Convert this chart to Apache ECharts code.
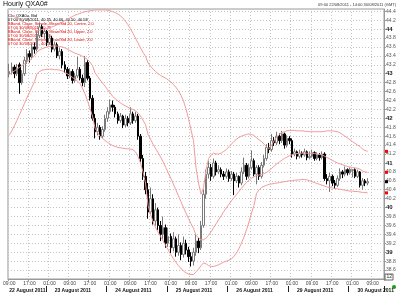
<!DOCTYPE html>
<html><head><meta charset="utf-8">
<script src="https://cdn.jsdelivr.net/npm/echarts@6/dist/echarts.min.js"></script>
<style>html,body{margin:0;padding:0;background:#fff}#c{width:400px;height:293px}</style>
</head><body><div id="c"></div>
<script>
// ---------- data ----------
const dayNames = ['22 August 2011','23 August 2011','24 August 2011','25 August 2011','26 August 2011','29 August 2011','30 August 2011'];
const dayDates = ['22/08/2011','23/08/2011','24/08/2011','25/08/2011','26/08/2011','29/08/2011','30/08/2011'];
const dayFirstHour = [9,0,0,0,0,0,0];
const dayLastHour  = [23,23,23,23,23,23,7];
const rangeEndHour = 13; // empty hourly slots after the last bar on 30/08

const opens = [
 43.00,43.05,43.15,43.00,43.20,42.80,43.00,43.30,43.45,43.38,43.60,43.55,43.85,44.05,43.90,
 43.95,43.70,43.80,43.55,43.65,43.40,43.50,43.20,43.10,42.95,43.05,42.85,42.95,43.10,42.90,42.80,43.25,42.90,42.45,42.00,41.70,41.80,41.60,41.75,
 42.00,42.15,42.30,42.25,42.10,41.95,42.05,41.85,42.00,41.90,42.10,41.95,42.05,41.60,41.10,40.70,40.40,39.90,40.20,39.70,39.95,39.60,39.40,39.55,
 39.20,39.35,39.10,39.30,39.00,39.15,38.95,39.20,39.05,38.90,38.80,39.00,39.25,39.10,39.60,40.30,40.75,40.90,40.70,41.00,40.80,40.85,40.75,40.70,
 40.80,40.65,40.75,40.60,40.70,40.55,40.80,40.95,40.70,40.90,41.05,40.75,40.90,40.70,40.95,41.10,41.35,41.30,41.50,41.45,41.60,41.50,41.65,41.40,
 41.55,41.50,41.20,41.25,41.15,41.22,41.18,41.25,41.12,41.15,41.23,41.10,41.18,41.12,41.20,40.65,40.60,40.70,40.55,40.50,40.65,40.80,40.75,40.85,
 40.78,40.83,40.85,40.70,40.80,40.50,40.60,40.55
];
const closes = [
 43.05,43.15,43.00,43.12,42.80,43.00,43.30,43.45,43.38,43.60,43.55,43.85,44.05,43.90,43.95,
 43.70,43.80,43.55,43.65,43.40,43.50,43.20,43.10,42.95,43.05,42.85,42.95,43.10,42.90,42.80,43.25,42.90,42.45,42.00,41.70,41.80,41.60,41.75,42.00,
 42.15,42.30,42.25,42.10,41.95,42.05,41.85,42.00,41.90,42.10,41.95,42.05,41.60,41.10,40.70,40.40,39.90,40.20,39.70,39.95,39.60,39.40,39.55,39.20,
 39.35,39.10,39.30,39.00,39.15,38.95,39.20,39.05,38.90,38.80,39.00,39.25,39.10,39.60,40.30,40.75,40.90,40.70,41.00,40.80,40.85,40.75,40.70,40.80,
 40.65,40.75,40.60,40.70,40.55,40.80,40.95,40.70,40.90,41.05,40.75,40.90,40.70,40.95,41.10,41.35,41.30,41.50,41.45,41.60,41.50,41.65,41.40,41.55,
 41.50,41.20,41.25,41.15,41.22,41.18,41.25,41.12,41.15,41.23,41.10,41.18,41.12,41.20,40.65,40.60,40.70,40.55,40.50,40.65,40.80,40.75,40.85,40.78,
 40.86,40.85,40.70,40.80,40.50,40.60,40.55,40.58
];
const highs = [
 43.22,43.25,43.20,43.22,43.25,43.08,43.38,43.55,43.52,43.68,43.70,43.95,44.15,44.10,44.02,
 43.98,43.88,43.85,43.72,43.70,43.58,43.55,43.28,43.15,43.12,43.10,43.02,43.38,43.15,42.98,43.40,43.30,42.95,42.52,42.10,41.90,41.85,41.82,42.08,
 42.25,42.42,42.40,42.30,42.15,42.12,42.08,42.08,42.05,42.25,42.15,42.15,42.10,41.65,41.18,40.80,40.55,40.45,40.30,40.10,40.00,39.70,39.80,39.62,
 39.55,39.42,39.45,39.35,39.40,39.22,39.35,39.28,39.12,39.00,39.10,39.40,39.32,39.70,40.40,40.85,41.05,40.98,41.10,41.05,40.95,40.90,40.82,40.88,
 40.85,40.82,40.80,40.78,40.72,40.90,41.12,41.00,40.98,41.28,41.10,40.95,40.95,41.02,41.18,41.42,41.45,41.65,41.58,41.70,41.66,41.72,41.68,41.62,
 41.60,41.55,41.32,41.28,41.30,41.26,41.32,41.28,41.26,41.30,41.26,41.24,41.22,41.26,41.24,40.75,40.78,40.74,40.62,40.72,40.88,40.84,40.92,40.88,
 40.90,40.86,40.88,40.85,40.82,40.66,40.64,40.66
];
const lows = [
 42.92,42.98,42.90,42.95,42.55,42.75,42.95,43.22,43.25,43.32,43.45,43.50,43.80,43.82,43.78,
 43.62,43.65,43.48,43.50,43.35,43.32,43.12,43.02,42.88,42.90,42.78,42.80,42.90,42.85,42.72,42.70,42.85,42.40,41.95,41.55,41.62,41.52,41.55,41.70,
 41.92,42.10,42.15,42.02,41.88,41.90,41.78,41.80,41.82,41.85,41.88,41.90,41.52,41.02,40.62,40.30,39.75,39.85,39.62,39.60,39.50,39.25,39.30,39.10,
 39.12,38.98,39.02,38.90,38.92,38.82,38.88,38.95,38.78,38.68,38.70,38.92,38.98,39.05,39.55,40.20,40.65,40.60,40.65,40.72,40.75,40.68,40.62,40.65,
 40.58,40.60,40.28,40.55,40.45,40.50,40.75,40.62,40.65,40.85,40.70,40.52,40.62,40.65,40.90,41.05,41.22,41.25,41.38,41.40,41.42,41.45,41.32,41.35,
 41.42,41.12,41.15,41.08,41.10,41.12,41.14,41.06,41.08,41.12,41.05,41.06,41.05,41.08,40.60,40.52,40.35,40.48,40.42,40.46,40.60,40.66,40.70,40.72,
 40.74,40.68,40.66,40.66,40.45,40.40,40.48,40.50
];
const bbUpper = [
 44.33,44.31,44.28,44.25,44.22,44.18,44.15,44.10,44.06,44.02,43.99,43.96,43.97,43.99,44.00,
 44.01,44.03,44.05,44.07,44.10,44.13,44.16,44.19,44.22,44.25,44.28,44.31,44.33,44.35,44.37,44.39,44.40,44.41,44.42,44.43,44.43,44.43,44.43,44.43,
 44.42,44.41,44.39,44.37,44.34,44.30,44.25,44.18,44.10,44.01,43.91,43.80,43.69,43.58,43.48,43.39,43.24,43.17,43.10,43.05,43.00,42.96,42.93,42.90,
 42.86,42.82,42.76,42.70,42.62,42.52,42.40,42.22,42.00,41.75,41.50,40.90,40.55,40.30,40.45,40.85,41.10,41.18,41.22,41.20,41.20,41.22,41.26,41.30,
 41.36,41.42,41.48,41.53,41.57,41.60,41.62,41.64,41.65,41.64,41.62,41.56,41.52,41.48,41.42,41.36,41.32,41.40,41.50,41.58,41.64,41.68,41.70,41.72,
 41.73,41.73,41.73,41.72,41.72,41.72,41.71,41.71,41.70,41.70,41.70,41.70,41.70,41.70,41.71,41.72,41.72,41.72,41.71,41.70,41.68,41.64,41.60,41.56,
 41.52,41.48,41.44,41.40,41.37,41.31,41.28,41.26
];
const bbCentre = [
 42.98,43.02,43.06,43.10,43.14,43.18,43.22,43.26,43.30,43.35,43.40,43.49,43.53,43.56,43.58,
 43.60,43.61,43.62,43.62,43.62,43.61,43.60,43.58,43.55,43.52,43.49,43.46,43.44,43.42,43.39,43.36,43.32,43.26,43.18,43.02,42.94,42.86,42.79,42.72,
 42.64,42.57,42.49,42.44,42.39,42.35,42.31,42.28,42.25,42.22,42.20,42.17,42.12,42.05,41.96,41.86,41.64,41.53,41.42,41.32,41.23,41.13,41.02,40.90,
 40.78,40.66,40.53,40.40,40.27,40.14,40.01,39.88,39.76,39.64,39.54,39.38,39.32,39.28,39.28,39.32,39.38,39.46,39.55,39.64,39.73,39.82,39.91,39.99,
 40.07,40.15,40.22,40.29,40.36,40.43,40.50,40.56,40.62,40.66,40.69,40.72,40.73,40.74,40.76,40.79,40.83,40.88,40.93,40.98,41.02,41.06,41.10,41.13,
 41.16,41.18,41.20,41.21,41.22,41.22,41.22,41.22,41.21,41.21,41.21,41.20,41.19,41.18,41.15,41.12,41.09,41.06,41.03,41.00,40.98,40.96,40.94,40.92,
 40.91,40.90,40.89,40.88,40.86,40.82,40.80,40.79
];
const bbLower = [
 41.62,41.72,41.83,41.95,42.07,42.20,42.33,42.46,42.58,42.70,42.82,43.00,43.05,43.08,43.09,
 43.10,43.10,43.10,43.09,43.09,43.08,43.06,43.03,43.00,42.96,42.92,42.88,42.84,42.78,42.68,42.55,42.40,42.22,42.05,41.78,41.68,41.60,41.55,41.50,
 41.46,41.42,41.39,41.37,41.35,41.34,41.33,41.32,41.32,41.31,41.30,41.25,41.15,41.00,40.80,40.55,40.05,39.85,39.68,39.55,39.45,39.35,39.25,39.15,
 39.05,38.95,38.86,38.78,38.70,38.64,38.58,38.54,38.51,38.50,38.50,38.56,38.62,38.70,38.76,38.74,38.70,38.68,38.68,38.70,38.72,38.75,38.78,38.80,
 38.82,38.85,38.90,38.98,39.08,39.20,39.34,39.50,39.68,39.88,40.05,40.32,40.40,40.45,40.48,40.50,40.52,40.53,40.54,40.55,40.56,40.57,40.58,40.59,
 40.60,40.60,40.61,40.62,40.62,40.63,40.63,40.62,40.60,40.58,40.56,40.54,40.52,40.50,40.48,40.46,40.45,40.44,40.43,40.42,40.41,40.40,40.39,40.38,
 40.37,40.37,40.36,40.36,40.35,40.34,40.34,40.33
];
const dateLabelHour = [9,3,3,3,3,3,3];
const yMin = 38.4, yMax = 44.45, yStep = 0.2;

// ---------- categories ----------
const cats = [], hourOf = [];
const pad = h => (h < 10 ? '0' : '') + h + ':00';
dayDates.forEach((d, di) => {
  for (let h = dayFirstHour[di]; h <= dayLastHour[di]; h++) { cats.push(d + ' ' + pad(h)); hourOf.push(h); }
});
const nBars = cats.length;
for (let h = dayLastHour[6] + 1; h <= rangeEndHour; h++) { cats.push(dayDates[6] + ' ' + pad(h)); hourOf.push(h); }
const dateLabelIdx = dayDates.map((d, di) => cats.indexOf(d + ' ' + pad(dateLabelHour[di])));
const candle = opens.map((o, i) => [o, closes[i], lows[i], highs[i]]);
const ok = [opens, closes, highs, lows, bbUpper, bbCentre, bbLower].every(a => a.length === nBars);

const timeShown = i => hourOf[i] % 8 === 1;
const FONT = 'Liberation Sans, Arial, sans-serif';

const chart = echarts.init(document.getElementById('c'), null, {renderer: 'canvas'});
chart.setOption({
  animation: false,
  backgroundColor: '#ffffff',
  grid: {left: 3, right: 16, top: 9, bottom: 14, show: true, borderColor: '#9a9a9a', borderWidth: 1},
  xAxis: [{
    type: 'category', data: cats, boundaryGap: true,
    axisLine: {show: true, lineStyle: {color: '#9a9a9a'}},
    axisTick: {show: true, interval: (i) => timeShown(i), length: 2, lineStyle: {color: '#9a9a9a'}},
    axisLabel: {interval: (i) => timeShown(i), formatter: v => v.slice(11), fontSize: 5, color: '#444', margin: 2, fontFamily: FONT},
    splitLine: {show: true, interval: (i) => timeShown(i), lineStyle: {color: '#c4c4c4', type: [1, 2], width: 1}}
  }, {
    type: 'category', data: cats, boundaryGap: true, position: 'bottom', offset: 7,
    axisLine: {show: false},
    axisTick: {show: true, interval: (i) => hourOf[i] === 0, length: 6, lineStyle: {color: '#222'}},
    axisLabel: {interval: (i) => dateLabelIdx.indexOf(i) >= 0, formatter: v => dayNames[dayDates.indexOf(v.slice(0, 10))],
      align: 'left', fontSize: 5, fontWeight: 'bold', color: '#111', margin: 2, fontFamily: FONT},
    splitLine: {show: false}
  }],
  yAxis: {
    type: 'value', position: 'right', min: yMin, max: yMax, interval: yStep, scale: true,
    axisLine: {show: true, lineStyle: {color: '#9a9a9a'}},
    axisTick: {show: true, length: 2, lineStyle: {color: '#9a9a9a'}},
    axisLabel: {fontSize: 5, color: '#555', margin: 2, showMinLabel: false, fontFamily: FONT,
      formatter: v => Math.abs(v - Math.round(v)) < 1e-6 ? '{b|' + Math.round(v) + '}' : v.toFixed(1),
      rich: {b: {fontSize: 6, fontWeight: 'bold', color: '#222', fontFamily: FONT}}},
    splitLine: {show: true, lineStyle: {color: '#c4c4c4', type: [1, 2], width: 1}}
  },
  series: [{
    name: 'Cls', type: 'candlestick', data: candle, barWidth: 2, xAxisIndex: 0,
    itemStyle: {color: '#ffffff', color0: '#000000', borderColor: '#7a7a7a', borderColor0: '#000000', borderWidth: 1}
  }, {
    name: 'Centre', type: 'line', data: bbCentre, showSymbol: false, lineStyle: {color: '#f29a9a', width: 1}, z: 3
  }, {
    name: 'Upper', type: 'line', data: bbUpper, showSymbol: false, lineStyle: {color: '#f29a9a', width: 1}, z: 3
  }, {
    name: 'Lower', type: 'line', data: bbLower, showSymbol: false, lineStyle: {color: '#f29a9a', width: 1}, z: 3
  }]
});

// ---------- annotations (text + last-value markers) ----------
const last = nBars - 1, f2 = v => v.toFixed(2);
const stamp = cats[last].slice(11) + ' ' + cats[last].slice(0, 10);
const legendLines = [
  ['Cls: QXA0=, Bid', '#000'],
  [stamp + ', ' + [opens[last], highs[last], lows[last], closes[last]].map(f2).join(', '), '#000'],
  ['BBand, Close, Simple, Mean/Std 20, Centre, 2.0', '#e00000'],
  [stamp + ', ' + f2(bbCentre[last]), '#e00000'],
  ['BBand, Close, Simple, Mean/Std 20, Upper, 2.0', '#e00000'],
  [stamp + ', ' + f2(bbUpper[last]), '#e00000'],
  ['BBand, Close, Simple, Mean/Std 20, Lower, 2.0', '#e00000'],
  [stamp + ', ' + f2(bbLower[last]), '#e00000']
];
const g = [];
g.push({type: 'text', left: 3, top: 1, style: {text: 'Hourly QXA0#', fontSize: 7, fill: '#111', fontFamily: FONT}});
g.push({type: 'text', right: 4, top: 3, style: {text: '09:00 22/08/2011 - 14:00 30/08/2011 (GMT)', fontSize: 4, fill: '#333', fontFamily: FONT}});
legendLines.forEach((l, k) => g.push({type: 'text', left: 8, top: 14 + k * 4, style: {text: l[0], fontSize: 4, fill: l[1], fontFamily: FONT}}));
[[bbUpper[last], '#ff0000'], [bbCentre[last], '#ff0000'], [bbLower[last], '#ff0000'], [closes[last], '#000000']].forEach(m => {
  const y = chart.convertToPixel({yAxisIndex: 0}, m[0]);
  g.push({type: 'rect', shape: {x: 385, y: y - 1.5, width: 3, height: 3}, style: {fill: m[1]}, z: 10});
});
g.push({type: 'rect', shape: {x: 385, y: 274, width: 8, height: 6}, style: {fill: '#fff', stroke: '#666', lineWidth: 1}, z: 10});
g.push({type: 'text', x: 386.5, y: 274.5, style: {text: '12', fontSize: 5, fill: '#333', fontFamily: FONT}, z: 11});
g.push({type: 'circle', shape: {cx: 394, cy: 287, r: 2}, style: {fill: '#1a9a1a'}, z: 10});
if (!ok) g.push({type: 'text', left: 150, top: 120, style: {text: 'LEN MISMATCH', fontSize: 14, fill: '#00f'}});
chart.setOption({graphic: g});
</script>
</body></html>
